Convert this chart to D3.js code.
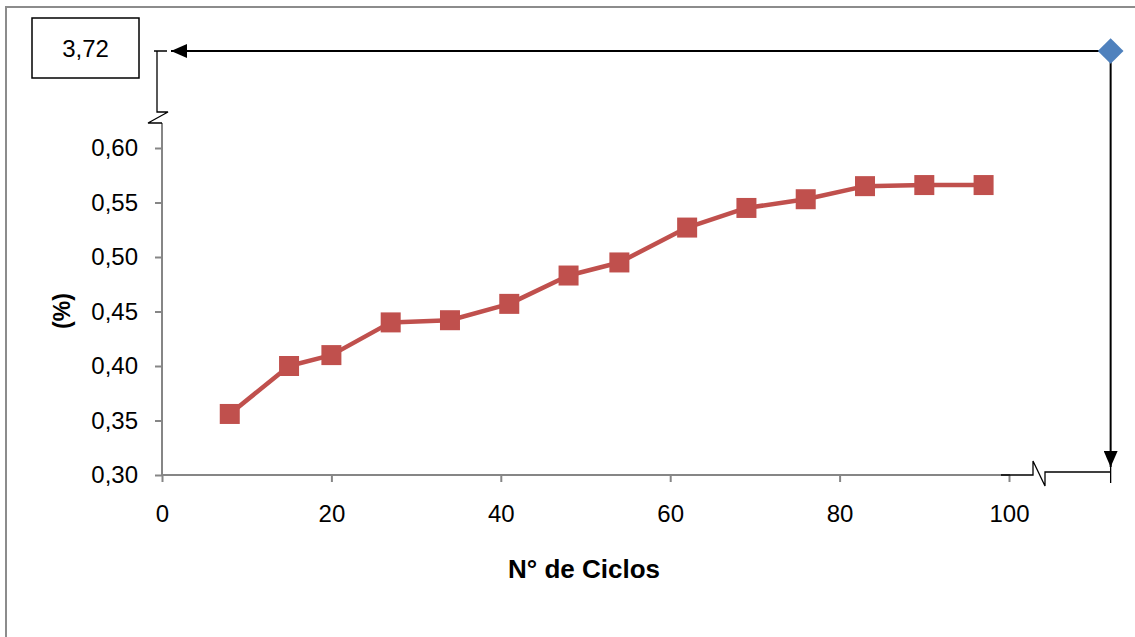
<!DOCTYPE html>
<html>
<head>
<meta charset="utf-8">
<script src="https://cdn.jsdelivr.net/npm/d3@7"></script>
<style>
  html, body { margin: 0; padding: 0; background: #fff; }
  svg { display: block; }
  text { font-family: "Liberation Sans", Arial, sans-serif; fill: #000; }
</style>
</head>
<body>
<svg id="chart" width="1135" height="637"></svg>
<script>
// Porcentaje frente al número de ciclos
const ciclos = [8, 15, 20, 27, 34, 41, 48, 54, 62, 69, 76, 83, 90, 97];
const porcentaje = [0.356, 0.400, 0.410, 0.440, 0.442, 0.457, 0.483, 0.495, 0.527, 0.545, 0.553, 0.565, 0.566, 0.566];

// Valor aislado, fuera de escala (eje cortado)
const atipicoX = [112];
const atipicoY = [3.72];

const yTicks = [0.30, 0.35, 0.40, 0.45, 0.50, 0.55, 0.60];
const xTicks = [0, 20, 40, 60, 80, 100];

const svg = d3.select("#chart");
const fmt = d => d3.format(".2f")(d).replace(".", ",");

const x = d3.scaleLinear().domain([0, 100]).range([162, 1009]);
const y = d3.scaleLinear().domain([0.30, 0.60]).range([475, 148]);
// Tramo superior del eje Y tras el corte
const yTop = d3.scaleLinear().domain([3.62, 3.72]).range([112, 51]);

const axisGrey = "#868686";

// Marco exterior
svg.append("path")
  .attr("d", "M6,637 V7 H1135")
  .attr("fill", "none").attr("stroke", "#8c8c8c").attr("stroke-width", 2);

// Eje Y (parte inferior)
const yAxis = svg.append("g").attr("transform", `translate(${x(0)},0)`)
  .call(d3.axisLeft(y).tickValues(yTicks).tickSize(7).tickSizeOuter(0).tickPadding(17).tickFormat(fmt));
yAxis.select(".domain").remove();
yAxis.selectAll(".tick line").attr("stroke", axisGrey).attr("stroke-width", 2);
yAxis.selectAll(".tick text").style("font-size", "24px").style("font-family", "'Liberation Sans', Arial, sans-serif");
svg.append("line")
  .attr("x1", x(0)).attr("x2", x(0)).attr("y1", y(0.30) + 1).attr("y2", 123)
  .attr("stroke", axisGrey).attr("stroke-width", 2);

// Corte del eje Y y tramo superior
svg.append("path")
  .attr("d", `M${x(0)},123 H148 L168,112 H157 V${yTop(3.72)} M154,${yTop(3.72)} H167`)
  .attr("fill", "none").attr("stroke", "#000").attr("stroke-width", 1.3);

// Eje X
const xAxis = svg.append("g").attr("transform", `translate(0,${y(0.30)})`)
  .call(d3.axisBottom(x).tickValues(xTicks).tickSize(7).tickSizeOuter(0).tickPadding(23).tickFormat(d3.format("d")));
xAxis.select(".domain").remove();
xAxis.selectAll(".tick line").attr("stroke", axisGrey).attr("stroke-width", 2);
xAxis.selectAll(".tick text").style("font-size", "24px").style("font-family", "'Liberation Sans', Arial, sans-serif");
svg.append("line")
  .attr("x1", x(0) - 1).attr("x2", x(100) + 1).attr("y1", y(0.30)).attr("y2", y(0.30))
  .attr("stroke", axisGrey).attr("stroke-width", 2);

// Corte del eje X y tramo derecho
const xr = x(atipicoX[0]);
svg.append("path")
  .attr("d", `M${x(100) - 8},${y(0.30)} H1033 V461 L1045,486 V472 H${xr} M${xr},464 V483`)
  .attr("fill", "none").attr("stroke", "#000").attr("stroke-width", 1.3);

// Serie principal
const line = d3.line().x((d, i) => x(ciclos[i])).y(d => y(d));
svg.append("path")
  .datum(porcentaje)
  .attr("d", line)
  .attr("fill", "none").attr("stroke", "#c0504d").attr("stroke-width", 4.5)
  .attr("stroke-linejoin", "round");

svg.selectAll("rect.pt")
  .data(porcentaje)
  .join("rect")
  .attr("class", "pt")
  .attr("x", (d, i) => x(ciclos[i]) - 10)
  .attr("y", d => y(d) - 10)
  .attr("width", 20).attr("height", 20)
  .attr("fill", "#c0504d");

// Flechas desde el valor aislado hacia ambos ejes
const defs = svg.append("defs");
defs.append("marker")
  .attr("id", "arrow")
  .attr("viewBox", "0 0 16 14")
  .attr("refX", 16).attr("refY", 7)
  .attr("markerWidth", 16).attr("markerHeight", 14)
  .attr("markerUnits", "userSpaceOnUse")
  .attr("orient", "auto")
  .append("path").attr("d", "M0,0 L16,7 L0,14 Z").attr("fill", "#000");

const py = yTop(atipicoY[0]);
svg.append("line")
  .attr("x1", xr).attr("y1", py).attr("x2", 171).attr("y2", py)
  .attr("stroke", "#000").attr("stroke-width", 2).attr("marker-end", "url(#arrow)");
svg.append("line")
  .attr("x1", xr).attr("y1", py).attr("x2", xr).attr("y2", 467)
  .attr("stroke", "#000").attr("stroke-width", 2).attr("marker-end", "url(#arrow)");

// Punto aislado (rombo)
svg.selectAll("path.atipico")
  .data(atipicoY)
  .join("path")
  .attr("class", "atipico")
  .attr("d", d3.symbol().type(d3.symbolSquare).size(330))
  .attr("transform", (d, i) => `translate(${x(atipicoX[i])},${yTop(d)}) rotate(45)`)
  .attr("fill", "#4f81bd");

// Etiqueta del valor aislado
svg.append("rect")
  .attr("x", 32).attr("y", 18).attr("width", 107).attr("height", 60)
  .attr("fill", "#fff").attr("stroke", "#000").attr("stroke-width", 1.5);
svg.append("text")
  .attr("x", 85.5).attr("y", 57)
  .attr("text-anchor", "middle")
  .style("font-size", "24px")
  .text(fmt(atipicoY[0]));

// Títulos de ejes
svg.append("text")
  .attr("x", 584).attr("y", 578)
  .attr("text-anchor", "middle")
  .style("font-size", "26px").style("font-weight", "bold")
  .text("N° de Ciclos");
svg.append("text")
  .attr("transform", "translate(70,311) rotate(-90)")
  .attr("text-anchor", "middle")
  .style("font-size", "23px").style("font-weight", "bold")
  .text("(%)");
</script>
</body>
</html>
